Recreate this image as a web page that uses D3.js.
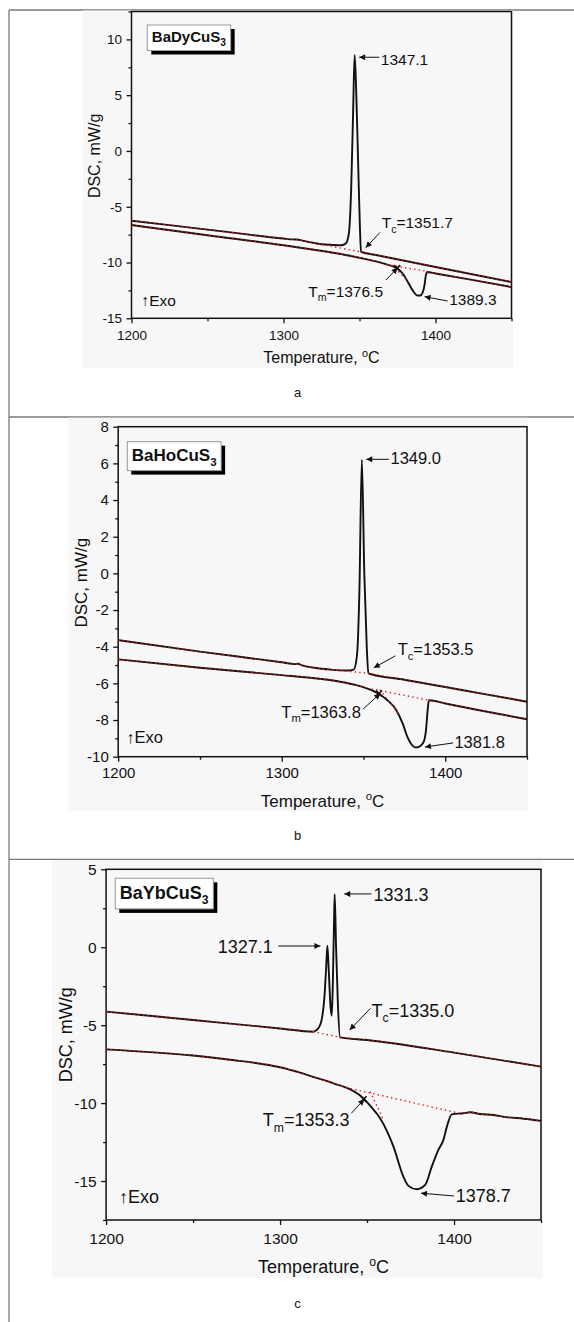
<!DOCTYPE html>
<html>
<head>
<meta charset="utf-8">
<script src="https://cdn.jsdelivr.net/npm/d3@7"></script>
<style>
  body { margin: 0; background: #fff; }
  svg { display: block; }
  text { font-family: "Liberation Sans", Arial, sans-serif; fill: #111; }
</style>
</head>
<body>
<svg id="fig" width="574" height="1322"></svg>
<script>
// ---- data (temperature in degC, DSC in mW/g) ----
const xTicks = [1200, 1300, 1400];
const xMinor = [1250, 1350, 1450];

// a: BaDyCuS3
const aYTicks = [-15, -10, -5, 0, 5, 10];
const aYMinor = [-12.5, -7.5, -2.5, 2.5, 7.5, 12.5];
const aCool = [[1200,-6.25],[1250,-7.05],[1300,-7.85],[1306,-7.93],[1309,-7.94],[1312,-8.02],[1318,-8.2],[1325,-8.36],[1332,-8.42],[1338,-8.45],[1341,-8.3],[1343,-7.4],[1344.5,-3.5],[1345.8,3.5],[1346.8,8.6],[1347.8,5.5],[1349,-0.5],[1350.2,-6.5],[1351,-9.05],[1360,-9.3],[1400,-10.4],[1450,-11.75]];
const aHeat = [[1200,-6.64],[1250,-7.55],[1300,-8.45],[1320,-8.85],[1340,-9.3],[1355,-9.72],[1365,-10.05],[1372,-10.35],[1376,-10.65],[1379,-11.1],[1382,-11.8],[1385,-12.5],[1388,-12.95],[1390,-12.95],[1391.5,-12.7],[1392.8,-12.0],[1393.6,-11.2],[1394.5,-10.85],[1400,-10.98],[1425,-11.58],[1450,-12.2]];
const aGaps = [[1325, 1351], [1370, 1394.5]];
const aFits = [[[1325,-8.38],[1351,-9.05]], [[1368,-10.2],[1395,-10.8]], [[1371.2,-10.22],[1380.6,-11.5]]];
const aNotes = [
  {label: '1347.1', at: [1364, 7.7], anchor: 'start', from: [1363, 8.4], to: [1349.8, 8.4]},
  {label: 'T_c=1351.7', at: [1364.6, -6.94], anchor: 'start', from: [1363.5, -7.3], to: [1354.1, -8.67]},
  {label: 'T_m=1376.5', at: [1365.5, -13.1], anchor: 'end', from: [1367.4, -11.57], to: [1375.1, -10.47]},
  {label: '1389.3', at: [1409, -13.85], anchor: 'start', from: [1408, -13.45], to: [1392.8, -13.06]}
];
const aOnset = [1374.8, -10.5];
const aExo = [1206.5, -13.9];

// b: BaHoCuS3
const bYTicks = [-10, -8, -6, -4, -2, 0, 2, 4, 6, 8];
const bYMinor = [-9, -7, -5, -3, -1, 1, 3, 5, 7];
const bCool = [[1200,-3.64],[1250,-4.27],[1300,-4.85],[1308,-4.95],[1310,-4.93],[1312,-5.0],[1320,-5.15],[1330,-5.25],[1340,-5.3],[1344,-5.25],[1346,-4.5],[1347.5,-1],[1349,6.2],[1350.5,0],[1352,-4],[1353,-5.45],[1375,-5.8],[1400,-6.2],[1425,-6.6],[1450,-7.0]];
const bHeat = [[1200,-4.69],[1250,-5.15],[1300,-5.55],[1320,-5.72],[1335,-5.9],[1345,-6.08],[1352,-6.27],[1359,-6.55],[1365,-6.95],[1370,-7.45],[1374,-8.2],[1377,-8.95],[1380,-9.4],[1382,-9.5],[1385,-9.4],[1387,-9.15],[1388.3,-8.5],[1389.2,-7.5],[1390,-6.92],[1400,-7.1],[1420,-7.45],[1450,-7.96]];
const bGaps = [[1340, 1353], [1358, 1390]];
const bFits = [[[1325,-5.2],[1353,-5.45]], [[1355,-6.3],[1390,-6.92]], [[1360,-6.35],[1371,-7.6]]];
const bNotes = [
  {label: '1349.0', at: [1366.5, 5.95], anchor: 'start', from: [1365.5, 6.22], to: [1351.7, 6.22]},
  {label: 'T_c=1353.5', at: [1370.9, -4.45], anchor: 'start', from: [1369.5, -4.5], to: [1356.3, -5.15]},
  {label: 'T_m=1363.8', at: [1348.4, -7.88], anchor: 'end', from: [1349.8, -7.4], to: [1360.3, -6.55]},
  {label: '1381.8', at: [1405.6, -9.55], anchor: 'start', from: [1404.8, -9.25], to: [1387.6, -9.47]}
];
const bOnset = [1359.5, -6.55];
const bExo = [1204.9, -9.27];

// c: BaYbCuS3
const cYTicks = [-15, -10, -5, 0, 5];
const cYMinor = [-17.5, -12.5, -7.5, -2.5, 2.5];
const cCool = [[1200,-4.13],[1250,-4.67],[1300,-5.21],[1319,-5.42],[1322,-5.2],[1324,-4.6],[1325.5,-3.2],[1326.5,-1.3],[1327.2,0.1],[1328,-1.5],[1329,-3.8],[1329.7,-4.4],[1330.3,-2.5],[1331,1.5],[1331.4,3.4],[1332.2,0],[1333.2,-3.5],[1334.5,-5.78],[1350,-5.95],[1400,-6.76],[1450,-7.66]];
const cHeat = [[1200,-6.55],[1250,-6.95],[1270,-7.2],[1300,-7.7],[1311.5,-8.05],[1320,-8.35],[1330.7,-8.73],[1340,-9.1],[1348,-9.7],[1352,-10.2],[1357.5,-10.97],[1365.2,-12.79],[1370.9,-14.72],[1373.8,-15.31],[1378.6,-15.53],[1383.4,-15.25],[1387.2,-14.08],[1391,-13.0],[1393.9,-12.36],[1395.9,-11.51],[1398.7,-10.72],[1405.4,-10.65],[1409.3,-10.59],[1415,-10.7],[1422.7,-10.76],[1430,-10.9],[1440,-11.0],[1450,-11.14]];
const cGaps = [[1319, 1334.5], [1345, 1405]];
const cFits = [[[1319,-5.42],[1334.7,-5.78]], [[1338,-9.0],[1403,-10.65]], [[1351.8,-9.27],[1359.5,-11.08]]];
const cNotes = [
  {label: '1331.3', at: [1353.7, 2.99], anchor: 'start', from: [1352.5, 3.42], to: [1336.9, 3.42]},
  {label: '1327.1', at: [1295.8, -0.35], anchor: 'end', from: [1299, 0.08], to: [1323.2, 0.08]},
  {label: 'T_c=1335.0', at: [1352.6, -4.45], anchor: 'start', from: [1352, -3.92], to: [1340, -5.31]},
  {label: 'T_m=1353.3', at: [1340, -11.5], anchor: 'end', from: [1341, -10.65], to: [1348.4, -9.75]},
  {label: '1378.7', at: [1401, -16.32], anchor: 'start', from: [1400, -15.96], to: [1381, -15.78]}
];
const cOnset = [1348, -9.75];
const cExo = [1207.4, -16.38];

// ---- layout ----
const panels = [
  {name: 'BaDyCuS3', caption: 'a', yDomain: [-15, 12.5], yTicks: aYTicks, yMinor: aYMinor,
   cool: aCool, heat: aHeat, gaps: aGaps, fits: aFits, notes: aNotes, onset: aOnset, exo: aExo,
   left: 131.5, right: 511.5, top: 11.5, bottom: 318.3, bg: [83, 10.5, 513, 368],
   tickFs: 13.5, noteFs: 15.5, titleFs: 16, boxFs: 15, boxDx: 15.8, boxDy: 13.5,
   tickBase: 21.7, titleBase: 45, yTitleX: 94.4, yTitleDy: -9, capY: 397},
  {name: 'BaHoCuS3', caption: 'b', yDomain: [-10, 8], yTicks: bYTicks, yMinor: bYMinor,
   cool: bCool, heat: bHeat, gaps: bGaps, fits: bFits, notes: bNotes, onset: bOnset, exo: bExo,
   left: 118.2, right: 527, top: 426.7, bottom: 756.7, bg: [68.4, 417.7, 528, 810.7],
   tickFs: 15, noteFs: 16.5, titleFs: 17, boxFs: 17, boxDx: 9.1, boxDy: 15,
   tickBase: 21.6, titleBase: 50, yTitleX: 80.5, yTitleDy: -9, capY: 840},
  {name: 'BaYbCuS3', caption: 'c', yDomain: [-17.5, 5], yTicks: cYTicks, yMinor: cYMinor,
   cool: cCool, heat: cHeat, gaps: cGaps, fits: cFits, notes: cNotes, onset: cOnset, exo: cExo,
   left: 106.1, right: 541, top: 869.3, bottom: 1220, bg: [52.3, 860, 542.8, 1278],
   tickFs: 15.5, noteFs: 18, titleFs: 18, boxFs: 18, boxDx: 9.2, boxDy: 9,
   tickBase: 24, titleBase: 53.3, yTitleX: 65.9, yTitleDy: -10, capY: 1308}
];

const svg = d3.select('#fig');

svg.append('defs').append('marker')
  .attr('id', 'head')
  .attr('viewBox', '0 0 10 10')
  .attr('refX', 10).attr('refY', 5)
  .attr('markerWidth', 8).attr('markerHeight', 6)
  .attr('markerUnits', 'userSpaceOnUse')
  .attr('orient', 'auto')
  .append('path').attr('d', 'M0,0L10,5L0,10Z').attr('fill', '#111');

// table rules
const rule = svg.append('g').attr('stroke', '#7a7a7a').attr('stroke-width', 1.3);
rule.append('line').attr('x1', 9).attr('x2', 574).attr('y1', 10).attr('y2', 10);
rule.append('line').attr('x1', 9).attr('x2', 574).attr('y1', 417).attr('y2', 417);
rule.append('line').attr('x1', 9).attr('x2', 574).attr('y1', 859.3).attr('y2', 859.3);
rule.append('line').attr('x1', 9).attr('x2', 9).attr('y1', 10).attr('y2', 1322);

// text with "_x" subscripts
function richText(sel, str, fs) {
  const parts = str.split(/_(.)/);
  parts.forEach((t, i) => {
    if (!t) return;
    const isSub = i % 2 === 1;
    sel.append('tspan')
      .attr('font-size', isSub ? fs * 0.68 : fs)
      .attr('dy', isSub ? fs * 0.28 : (i > 0 ? -fs * 0.28 : 0))
      .text(t);
  });
}

panels.forEach(p => {
  const g = svg.append('g');
  const x = d3.scaleLinear().domain([1200, 1450]).range([p.left, p.right]);
  const y = d3.scaleLinear().domain(p.yDomain).range([p.bottom, p.top]);

  g.append('rect')
    .attr('x', p.bg[0]).attr('y', p.bg[1])
    .attr('width', p.bg[2] - p.bg[0]).attr('height', p.bg[3] - p.bg[1])
    .attr('fill', '#f7f7f7');

  // axes
  const xa = g.append('g').attr('transform', `translate(0,${p.bottom})`)
    .call(d3.axisBottom(x).tickValues(xTicks).tickSize(5).tickSizeOuter(0)
      .tickPadding(p.tickBase - 5 - 0.71 * p.tickFs).tickFormat(d => String(d)));
  g.append('g').attr('transform', `translate(0,${p.bottom})`)
    .call(d3.axisBottom(x).tickValues(xMinor).tickSize(3).tickSizeOuter(0).tickFormat(''));
  const ya = g.append('g').attr('transform', `translate(${p.left},0)`)
    .call(d3.axisLeft(y).tickValues(p.yTicks).tickSize(5).tickSizeOuter(0)
      .tickPadding(4.4).tickFormat(d => String(d)));
  g.append('g').attr('transform', `translate(${p.left},0)`)
    .call(d3.axisLeft(y).tickValues(p.yMinor).tickSize(3).tickSizeOuter(0).tickFormat(''));
  [xa, ya].forEach(a => a.attr('font-family', null).attr('font-size', p.tickFs));
  g.selectAll('.tick line').attr('stroke', '#111').attr('stroke-width', 1.3);
  g.selectAll('.domain').remove();

  g.append('rect')
    .attr('x', p.left).attr('y', p.top)
    .attr('width', p.right - p.left).attr('height', p.bottom - p.top)
    .attr('fill', 'none').attr('stroke', '#111').attr('stroke-width', 1.5);

  // curves
  const line = d3.line().x(d => x(d[0])).y(d => y(d[1])).curve(d3.curveMonotoneX);
  [p.cool, p.heat].forEach((c, i) => {
    g.append('path').attr('d', line(c))
      .attr('fill', 'none').attr('stroke', '#111').attr('stroke-width', 1.9);
    const gap = p.gaps[i];
    const red = d3.line().x(d => x(d[0])).y(d => y(d[1]))
      .defined(d => d[0] <= gap[0] || d[0] >= gap[1]).curve(d3.curveMonotoneX);
    g.append('path').attr('d', red(c))
      .attr('fill', 'none').attr('stroke', '#e8141b').attr('stroke-width', 1.3)
      .attr('stroke-dasharray', '1.4 3.2');
  });
  p.fits.forEach(f => {
    g.append('path').attr('d', d3.line().x(d => x(d[0])).y(d => y(d[1]))(f))
      .attr('fill', 'none').attr('stroke', '#e8141b').attr('stroke-width', 1.4)
      .attr('stroke-dasharray', '1.4 3.2');
  });

  // onset marker
  const ox = x(p.onset[0]), oy = y(p.onset[1]);
  g.append('path').attr('d', `M${ox-3},${oy-3}L${ox+3},${oy+3}M${ox-3},${oy+3}L${ox+3},${oy-3}`)
    .attr('stroke', '#111').attr('stroke-width', 1.6);

  // annotations
  p.notes.forEach(n => {
    g.append('line')
      .attr('x1', x(n.from[0])).attr('y1', y(n.from[1]))
      .attr('x2', x(n.to[0])).attr('y2', y(n.to[1]))
      .attr('stroke', '#111').attr('stroke-width', 1)
      .attr('marker-end', 'url(#head)');
    const t = g.append('text').attr('x', x(n.at[0])).attr('y', y(n.at[1]))
      .attr('text-anchor', n.anchor);
    richText(t, n.label, p.noteFs);
  });

  g.append('text').attr('x', x(p.exo[0])).attr('y', y(p.exo[1]))
    .attr('font-size', p.noteFs).text('\u2191Exo');

  // formula box
  const bx = p.left + p.boxDx, by = p.top + p.boxDy;
  const shadow = g.append('rect').attr('fill', '#000');
  const box = g.append('rect').attr('fill', '#fff').attr('stroke', '#999').attr('stroke-width', 1);
  const ft = g.append('text').attr('x', bx + 4.5).attr('y', by + p.boxFs * 1.13)
    .attr('font-weight', 'bold');
  ft.append('tspan').attr('font-size', p.boxFs).text(p.name.slice(0, -1));
  ft.append('tspan').attr('font-size', p.boxFs * 0.68).attr('dy', p.boxFs * 0.28).text(p.name.slice(-1));
  const w = ft.node().getBBox().width + 9, h = p.boxFs * 1.7;
  box.attr('x', bx).attr('y', by).attr('width', w).attr('height', h);
  shadow.attr('x', bx + 4).attr('y', by + 4).attr('width', w).attr('height', h);

  // axis titles
  const xt = g.append('text').attr('x', (p.left + p.right) / 2).attr('y', p.bottom + p.titleBase)
    .attr('text-anchor', 'middle').attr('font-size', p.titleFs);
  xt.append('tspan').text('Temperature, ');
  xt.append('tspan').attr('font-size', p.titleFs * 0.68).attr('dy', -p.titleFs * 0.42).text('o');
  xt.append('tspan').attr('dy', p.titleFs * 0.42).text('C');

  const cy = (p.top + p.bottom) / 2 + p.yTitleDy;
  g.append('text').attr('transform', `translate(${p.yTitleX + p.titleFs * 0.36},${cy}) rotate(-90)`)
    .attr('text-anchor', 'middle').attr('font-size', p.titleFs).text('DSC, mW/g');

  svg.append('text').attr('x', 297.5).attr('y', p.capY).attr('text-anchor', 'middle')
    .attr('font-family', '"Liberation Serif", "Times New Roman", serif')
    .attr('font-size', 13).text(p.caption);
});
</script>
</body>
</html>
